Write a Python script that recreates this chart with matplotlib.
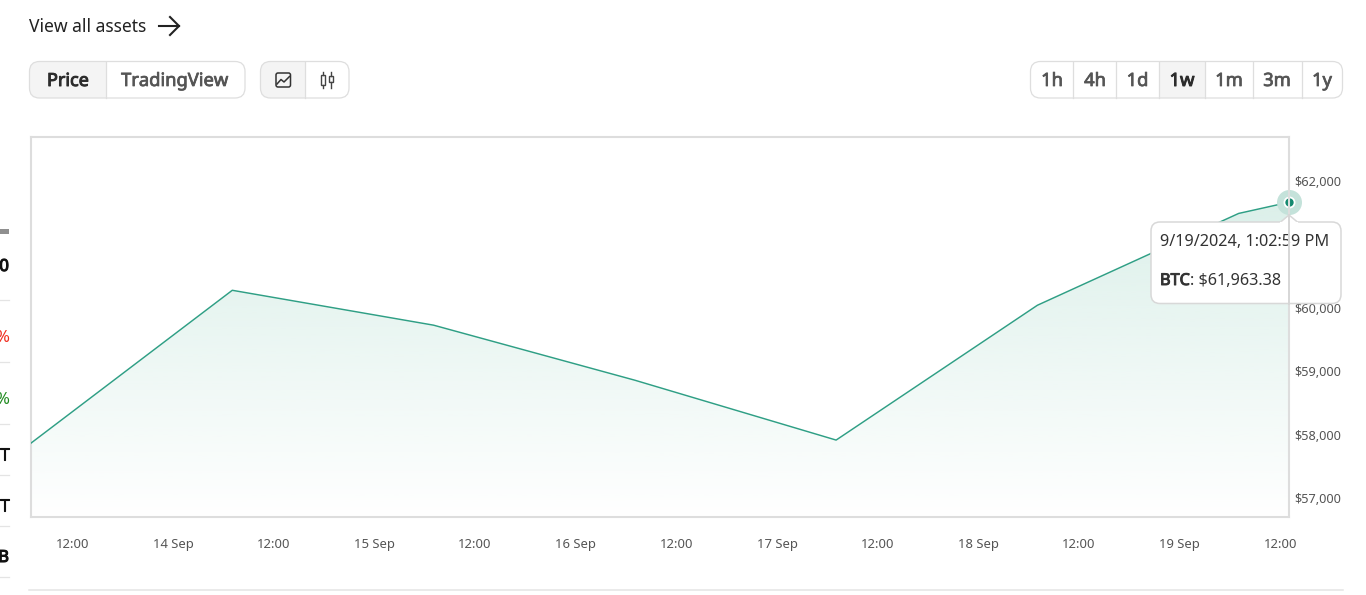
#!/usr/bin/env python3
import matplotlib
matplotlib.use('Agg')
import matplotlib.pyplot as plt
import matplotlib.transforms as mtrans
import matplotlib.patheffects as pe
from matplotlib.patches import FancyBboxPatch, Rectangle, Polygon
import numpy as np
import pandas as pd

plt.rcParams['font.family'] = ['Noto Sans', 'DejaVu Sans']

dates = ['2024-09-13 07:03', '2024-09-14 07:03', '2024-09-15 07:03', '2024-09-16 07:03',
         '2024-09-17 07:03', '2024-09-18 07:03', '2024-09-19 07:03', '2024-09-19 13:03']
prices = [58165, 60575, 60025, 59157, 58213, 60339, 61787, 61963.38]

x_tick_dates = ['2024-09-13 12:00', '2024-09-14 00:00', '2024-09-14 12:00', '2024-09-15 00:00',
                '2024-09-15 12:00', '2024-09-16 00:00', '2024-09-16 12:00', '2024-09-17 00:00',
                '2024-09-17 12:00', '2024-09-18 00:00', '2024-09-18 12:00', '2024-09-19 00:00',
                '2024-09-19 12:00']
x_tick_labels = ['12:00', '14 Sep', '12:00', '15 Sep', '12:00', '16 Sep', '12:00', '17 Sep',
                 '12:00', '18 Sep', '12:00', '19 Sep', '12:00']
y_ticks = [57000, 58000, 59000, 60000, 61000, 62000]
y_tick_labels = ['$57,000', '$58,000', '$59,000', '$60,000', '', '$62,000']

range_labels = ['1h', '4h', '1d', '1w', '1m', '3m', '1y']
side_labels = ['0', '%', '%', 'T', 'T', 'B']
side_colors = ['#111111', '#f02a1c', '#1e8a1e', '#111111', '#111111', '#111111']

W, H = 1366, 595
LINE = '#2f9f85'
BORDER = '#dddddd'
GREY = '#555555'
DARK = '#333333'

fig = plt.figure(figsize=(W / 100, H / 100), dpi=100, facecolor='white')

# chart
ax = fig.add_axes([31 / W, 1 - 517 / H, (1289 - 31) / W, (517 - 136.5) / H], zorder=1)
t = pd.to_datetime(dates)
ax.plot(t, prices, color=LINE, lw=1.05, solid_joinstyle='round', zorder=3)
fill = ax.fill_between(t, prices, 57000, color='none', lw=0)

ax.set_xlim(t[0], t[-1])
ax.set_ylim(57000, 63000)

grad = np.ones((256, 1, 4))
grad[:, 0, 0] = 220 / 255
grad[:, 0, 1] = 240 / 255
grad[:, 0, 2] = 234 / 255
grad[:, 0, 3] = np.linspace(1, 0, 256)
xl, yl = ax.get_xlim(), ax.get_ylim()
im = ax.imshow(grad, extent=(xl[0], xl[1], 57000, max(prices)), aspect='auto', zorder=2)
im.set_clip_path(fill.get_paths()[0], transform=ax.transData)
ax.set_xlim(xl)
ax.set_ylim(yl)

ax.set_xticks(pd.to_datetime(x_tick_dates))
ax.set_xticklabels(x_tick_labels, fontsize=9.4, color=GREY)
ax.yaxis.tick_right()
ax.set_yticks(y_ticks)
ax.set_yticklabels(y_tick_labels, fontsize=9.2, color=GREY)
ax.tick_params(axis='x', length=0, pad=15)
ax.tick_params(axis='y', length=0, pad=4)
shift = mtrans.ScaledTranslation(0, 19 / 100, fig.dpi_scale_trans)
for lab in ax.get_yticklabels():
    lab.set_transform(lab.get_transform() + shift)
for s in ax.spines.values():
    s.set_color(BORDER)
    s.set_linewidth(1.5)

ax.scatter(t[-1:], prices[-1:], s=324, color='#c4e2da', lw=0, clip_on=False, zorder=4)
ax.scatter(t[-1:], prices[-1:], s=74, color='white', lw=0, clip_on=False, zorder=5)
ax.scatter(t[-1:], prices[-1:], s=36, color='#14896f', lw=0, clip_on=False, zorder=6)
ax.spines['right'].set_zorder(7)

# page furniture, in pixel coordinates
ui = fig.add_axes([0, 0, 1, 1], zorder=2)
ui.set_xlim(0, W)
ui.set_ylim(H, 0)
ui.axis('off')


def heavy(txt, w=0.55):
    # the installed Noto Sans only gives the regular weight here, so thicken it
    txt.set_path_effects([pe.withStroke(linewidth=w, foreground=txt.get_color())])
    return txt


def button_group(x0, x1, dividers, active):
    y0, y1 = 61.5, 98
    box = FancyBboxPatch((x0, y0), x1 - x0, y1 - y0, boxstyle='round,pad=0,rounding_size=10',
                         fc='white', ec='none', zorder=1)
    ui.add_patch(box)
    shade = Rectangle((active[0], y0), active[1] - active[0], y1 - y0, fc='#f4f4f4', ec='none', zorder=2)
    ui.add_patch(shade)
    shade.set_clip_path(box)
    edge = FancyBboxPatch((x0, y0), x1 - x0, y1 - y0, boxstyle='round,pad=0,rounding_size=10',
                          fc='none', ec='#dedede', lw=0.9, zorder=4)
    ui.add_patch(edge)
    for d in dividers:
        ui.plot([d, d], [y0, y1], color='#dedede', lw=0.9, zorder=3)


ui.text(29, 27, 'View all assets', fontsize=12.6, color='#222222', va='center', ha='left')
ui.plot([159, 179], [26, 26], color='#222222', lw=1.5)
ui.plot([170, 179, 170], [17, 26, 35], color='#222222', lw=1.5, solid_joinstyle='miter')

button_group(29.5, 245, [105.5], (29.5, 105.5))
heavy(ui.text(68, 81, 'Price', fontsize=13, color='#2c2c2c', ha='center', va='center'), 0.7)
heavy(ui.text(174.5, 81, 'TradingView', fontsize=13.2, color='#555555', ha='center', va='center'))

button_group(260.5, 349, [304.5], (260.5, 304.5))
ui.add_patch(FancyBboxPatch((276, 73), 14.5, 14, boxstyle='round,pad=0,rounding_size=2', fc='none', ec=DARK, lw=1.1, zorder=5))
ui.plot([277, 281, 284, 289.5], [84, 79.5, 82, 76.5], color=DARK, lw=1.1, zorder=5)
for cx, top, bot, by0, by1 in [(323, 72, 88, 75, 85), (331, 72, 88, 76, 82)]:
    ui.plot([cx, cx], [top, by0], color='#444444', lw=1, zorder=5)
    ui.plot([cx, cx], [by1, bot], color='#444444', lw=1, zorder=5)
    ui.add_patch(Rectangle((cx - 2.2, by0), 4.4, by1 - by0, fc='none', ec='#444444', lw=1, zorder=5))

button_group(1030.5, 1342.5, [1073, 1116, 1159, 1205, 1253, 1302], (1159, 1205))
range_x = [1052, 1095, 1137.5, 1182, 1229, 1277, 1322]
for lab, rx in zip(range_labels, range_x):
    tx = ui.text(rx, 81, lab, fontsize=13.2, color='#2c2c2c' if lab == '1w' else GREY,
                 ha='center', va='center', zorder=6)
    heavy(tx, 0.7 if lab == '1w' else 0.55)

# tooltip
ui.add_patch(FancyBboxPatch((1151, 222), 190, 81.5, boxstyle='round,pad=0,rounding_size=9',
                            fc='white', ec='#d8d8d8', lw=1.1, zorder=7))
ui.add_patch(Polygon([(1280, 222.5), (1289, 215), (1298, 222.5)], closed=False, fc='white', ec='#d8d8d8', lw=1.1, zorder=8))
ui.plot([1281, 1297], [222.5, 222.5], color='white', lw=1.6, zorder=9)
ui.text(1160, 242, '9/19/2024, 1:02:59 PM', fontsize=11.7, color=DARK, va='center', ha='left', zorder=10)
heavy(ui.text(1160, 281, 'BTC', fontsize=11.7, color=DARK, va='center', ha='left', zorder=10), 0.7)
ui.text(1190, 281, ': $61,963.38', fontsize=11.7, color=DARK, va='center', ha='left', zorder=10)
ui.plot([1289, 1289], [215, 304], color='#d6d6d6', lw=1.4, zorder=11)

# clipped table on the left edge of the page
ui.add_patch(Rectangle((0, 229), 9, 5, fc='#8f8f8f', ec='none'))
for yy, lab, c in zip([267, 338, 400, 456, 507, 558], side_labels, side_colors):
    tx = ui.text(9, yy, lab, fontsize=12, color=c, ha='right', va='center')
    if c == '#111111':
        heavy(tx, 0.8)
for yy in [300, 362, 424, 475, 526, 577]:
    ui.plot([0, 9], [yy, yy], color='#e4e4e4', lw=0.9)
ui.plot([29, 1343], [589.5, 589.5], color='#e4e4e4', lw=1.1)

fig.savefig('out.png', dpi=100, facecolor='white')
